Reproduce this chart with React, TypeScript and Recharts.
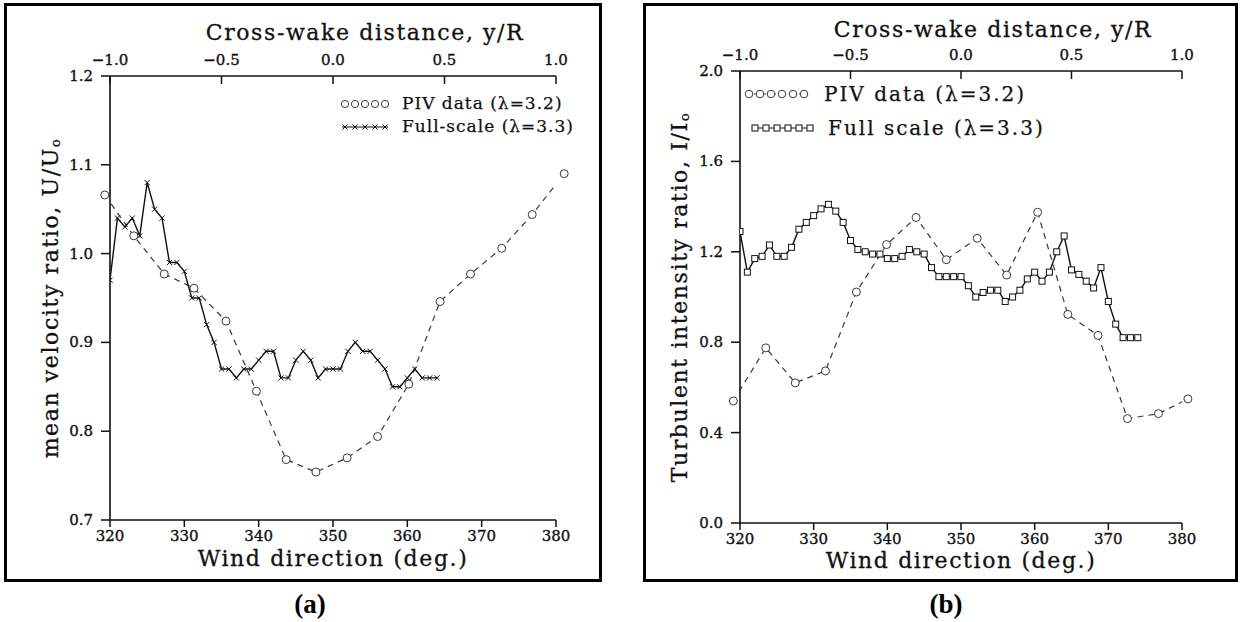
import React from 'react'
import { LineChart, Line, XAxis, YAxis, ReferenceDot, Legend } from 'recharts'

// (a) mean velocity ratio, PIV (lambda=3.2) vs full-scale (lambda=3.3)
const pivDirA = [319.3, 323.2, 327.3, 331.3, 335.6, 339.7, 343.7, 347.7, 351.9, 356.0, 360.2, 364.4, 368.5, 372.7, 376.8, 381.1]
const pivVelA = [1.066, 1.02, 0.977, 0.961, 0.924, 0.845, 0.768, 0.754, 0.77, 0.794, 0.853, 0.946, 0.977, 1.006, 1.044, 1.09]
const fullDirA = [
  320, 321, 322, 323, 324, 325, 326, 327, 328, 329,
  330, 331, 332, 333, 334, 335, 336, 337, 338, 339,
  340, 341, 342, 343, 344, 345, 346, 347, 348, 349,
  350, 351, 352, 353, 354, 355, 356, 357, 358, 359,
  360, 361, 362, 363, 364,
]
const fullVelA = [
  0.97, 1.04, 1.03, 1.04, 1.02, 1.08, 1.05, 1.04, 0.99, 0.99,
  0.98, 0.95, 0.95, 0.92, 0.9, 0.87, 0.87, 0.86, 0.87, 0.87,
  0.88, 0.89, 0.89, 0.86, 0.86, 0.88, 0.89, 0.88, 0.86, 0.87,
  0.87, 0.87, 0.89, 0.9, 0.89, 0.89, 0.88, 0.87, 0.85, 0.85,
  0.86, 0.87, 0.86, 0.86, 0.86,
]

// (b) turbulent intensity ratio
const pivDirB = [319.1, 323.5, 327.5, 331.6, 335.8, 339.9, 343.9, 348.0, 352.2, 356.2, 360.4, 364.5, 368.6, 372.6, 376.8, 380.8]
const pivTurbB = [0.54, 0.775, 0.62, 0.673, 1.022, 1.232, 1.352, 1.165, 1.26, 1.097, 1.375, 0.923, 0.83, 0.462, 0.484, 0.549]
const fullDirB = [
  320, 321, 322, 323, 324, 325, 326, 327, 328, 329,
  330, 331, 332, 333, 334, 335, 336, 337, 338, 339,
  340, 341, 342, 343, 344, 345, 346, 347, 348, 349,
  350, 351, 352, 353, 354, 355, 356, 357, 358, 359,
  360, 361, 362, 363, 364, 365, 366, 367, 368, 369,
  370, 371, 372, 373, 374,
]
const fullTurbB = [
  1.29, 1.11, 1.17, 1.18, 1.23, 1.18, 1.18, 1.22, 1.3, 1.33,
  1.36, 1.39, 1.41, 1.38, 1.33, 1.25, 1.21, 1.2, 1.19, 1.19,
  1.17, 1.17, 1.18, 1.21, 1.2, 1.19, 1.13, 1.09, 1.09, 1.09,
  1.09, 1.05, 1.0, 1.02, 1.03, 1.03, 0.98, 1.0, 1.03, 1.08,
  1.11, 1.07, 1.11, 1.2, 1.27, 1.12, 1.1, 1.07, 1.04, 1.13,
  0.98, 0.88, 0.82, 0.82, 0.82,
]

// axis ticks
const windTicks = [320, 330, 340, 350, 360, 370, 380]
// cross-wake y/R runs -1..1 over the same 320..380 span
const crossTickPos = [320, 335, 350, 365, 380]
const crossTickLabels = ['\u22121.0', '\u22120.5', '0.0', '0.5', '1.0']
const velTicks = [0.7, 0.8, 0.9, 1.0, 1.1, 1.2]
const turbTicks = [0, 0.4, 0.8, 1.2, 1.6, 2.0]

const toPoints = (xs: number[], ys: number[]) => xs.map((x, i) => ({ x, y: ys[i] }))
const pivA = toPoints(pivDirA, pivVelA)
const fullA = toPoints(fullDirA, fullVelA)
const pivB = toPoints(pivDirB, pivTurbB)
const fullB = toPoints(fullDirB, fullTurbB)

const FONT = '"DejaVu Serif", serif'
const INK = '#111'
const DASH = '#3a3a3a'

// scanned-print look: a hair of stroke thickens the glyphs a little
const tickText = { fontSize: 15, fontFamily: FONT, fill: INK, stroke: INK, strokeWidth: 0.35 }

// tick labels only; the tick marks come from the axes themselves
const LeftTick = (p: any) => (
  <text x={p.x} y={p.y} textAnchor="end" dominantBaseline="central" {...tickText}>
    {Number(p.payload.value).toFixed(1)}
  </text>
)
const BottomTick = (p: any) => (
  <text x={p.x} y={p.y} textAnchor="middle" dominantBaseline="central" {...tickText}>
    {p.payload.value}
  </text>
)
const TopTick = (p: any) => (
  <text x={p.x} y={p.y} textAnchor="middle" dominantBaseline="central" {...tickText}>
    {crossTickLabels[p.index]}
  </text>
)

const CrossDot = (p: any) => {
  const s = 2.6
  return (
    <path
      key={p.index}
      d={`M${p.cx - s},${p.cy - s}L${p.cx + s},${p.cy + s}M${p.cx - s},${p.cy + s}L${p.cx + s},${p.cy - s}`}
      stroke={INK}
      strokeWidth={1}
      fill="none"
    />
  )
}
const SquareDot = (p: any) => (
  <rect key={p.index} x={p.cx - 3} y={p.cy - 3} width={6} height={6} fill="#fff" stroke={INK} strokeWidth={1} />
)

const legendText: React.CSSProperties = { fontFamily: FONT, color: INK, WebkitTextStroke: '0.25px #111' }

const LegendA = () => (
  <div style={{ ...legendText, fontSize: 17, letterSpacing: 1, lineHeight: '23px' }}>
    <div style={{ display: 'flex', alignItems: 'center', whiteSpace: 'nowrap' }}>
      <svg width={52} height={12}>
        {[5, 15, 25, 35, 45].map(c => <circle key={c} cx={c} cy={6} r={3.6} fill="#fff" stroke={DASH} strokeWidth={1} />)}
      </svg>
      <span style={{ marginLeft: 10 }}>PIV data (λ=3.2)</span>
    </div>
    <div style={{ display: 'flex', alignItems: 'center', whiteSpace: 'nowrap' }}>
      <svg width={52} height={12}>
        <line x1={2} x2={48} y1={6} y2={6} stroke={INK} strokeWidth={1} />
        {[5, 15, 25, 35, 45].map(c => (
          <path key={c} d={`M${c - 2.5},3.5L${c + 2.5},8.5M${c - 2.5},8.5L${c + 2.5},3.5`} stroke={INK} strokeWidth={1} />
        ))}
      </svg>
      <span style={{ marginLeft: 10 }}>Full-scale (λ=3.3)</span>
    </div>
  </div>
)

const LegendB = () => (
  <div style={{ ...legendText, fontSize: 20, letterSpacing: 2, lineHeight: '34px' }}>
    <div style={{ display: 'flex', alignItems: 'center', whiteSpace: 'nowrap' }}>
      <svg width={66} height={12}>
        <line x1={5} x2={60} y1={6} y2={6} stroke={DASH} strokeWidth={1} strokeDasharray="2 3" />
        {[5, 16, 27, 38, 49, 60].map(c => <circle key={c} cx={c} cy={6} r={3.8} fill="#fff" stroke={DASH} strokeWidth={1} />)}
      </svg>
      <span style={{ marginLeft: 14 }}>PIV data (λ=3.2)</span>
    </div>
    <div style={{ display: 'flex', alignItems: 'center', whiteSpace: 'nowrap' }}>
      <svg width={66} height={12} style={{ marginLeft: 6 }}>
        <line x1={5} x2={60} y1={6} y2={6} stroke={INK} strokeWidth={1} />
        {[5, 16, 27, 38, 49, 60].map(c => <rect key={c} x={c - 3} y={3} width={6} height={6} fill="#fff" stroke={INK} strokeWidth={1} />)}
      </svg>
      <span style={{ marginLeft: 12 }}>Full scale (λ=3.3)</span>
    </div>
  </div>
)

const titleStyle: React.CSSProperties = {
  position: 'absolute',
  fontFamily: FONT,
  fontSize: 22,
  letterSpacing: 1.6,
  color: INK,
  WebkitTextStroke: '0.3px #111',
  whiteSpace: 'nowrap',
  lineHeight: 1,
}

function Title({ x, y, rotate, children }: { x: number; y: number; rotate?: boolean; children: React.ReactNode }) {
  return (
    <div style={{ ...titleStyle, left: x, top: y, transform: `translate(-50%, -50%)${rotate ? ' rotate(-90deg)' : ''}` }}>
      {children}
    </div>
  )
}

const sub: React.CSSProperties = { fontSize: '0.6em', verticalAlign: '-0.2em' }
const caption: React.CSSProperties = {
  position: 'absolute', top: 604, transform: 'translate(-50%, -50%)',
  fontFamily: '"Liberation Serif", serif', fontWeight: 'bold', fontSize: 27, lineHeight: 1,
}

const axisLine = { stroke: INK, strokeWidth: 1.6 }
const tickLine = { stroke: INK, strokeWidth: 1.5 }

export default function App() {
  return (
    <div style={{ position: 'absolute', left: 0, top: 0, width: 1246, height: 622, background: '#fff', overflow: 'hidden' }}>
      <div style={{ position: 'absolute', left: 4, top: 3, width: 598, height: 579, border: '3px solid #000', boxSizing: 'border-box' }} />
      <div style={{ position: 'absolute', left: 643, top: 3, width: 595, height: 579, border: '3px solid #000', boxSizing: 'border-box' }} />

      {/* (a) */}
      <div style={{ position: 'absolute', left: 0, top: 0 }}>
        <LineChart width={600} height={585} margin={{ top: 46, right: 44, bottom: 35, left: 50 }}>
          <XAxis xAxisId="wind" type="number" dataKey="x" domain={[320, 380]} ticks={windTicks} interval={0}
            allowDataOverflow height={30} tickSize={7} tickMargin={9} tickLine={tickLine} tick={BottomTick} axisLine={axisLine} />
          <XAxis xAxisId="cross" orientation="top" type="number" dataKey="x" domain={[320, 380]} ticks={crossTickPos} interval={0}
            allowDataOverflow height={30} tickSize={-8} tickMargin={24} tickLine={tickLine} tick={TopTick} axisLine={axisLine} />
          <YAxis yAxisId="vel" type="number" domain={[0.7, 1.2]} ticks={velTicks} interval={0}
            width={60} tickSize={9} tickMargin={8} tickLine={tickLine} tick={LeftTick} axisLine={axisLine} />
          <Line xAxisId="wind" yAxisId="vel" data={pivA} dataKey="y" type="linear" stroke={DASH} strokeWidth={1.2}
            strokeDasharray="6 5" dot={false} activeDot={false} isAnimationActive={false} />
          <Line xAxisId="cross" yAxisId="vel" data={fullA} dataKey="y" type="linear" stroke={INK} strokeWidth={1.4}
            dot={CrossDot} activeDot={false} isAnimationActive={false} />
          {pivA.map((d, i) => (
            <ReferenceDot key={i} xAxisId="wind" yAxisId="vel" x={d.x} y={d.y} r={4} fill="#fff" stroke={DASH} strokeWidth={1} ifOverflow="visible" />
          ))}
          <Legend layout="vertical" align="center" verticalAlign="middle" content={() => <LegendA />}
            wrapperStyle={{ left: 340, top: 92, width: 'auto' }} />
        </LineChart>
      </div>

      {/* (b) */}
      <div style={{ position: 'absolute', left: 620, top: 0 }}>
        <LineChart width={626} height={585} margin={{ top: 41, right: 64, bottom: 32, left: 60 }}>
          <XAxis xAxisId="wind" type="number" dataKey="x" domain={[320, 380]} ticks={windTicks} interval={0}
            allowDataOverflow height={30} tickSize={7} tickMargin={9} tickLine={tickLine} tick={BottomTick} axisLine={axisLine} />
          <XAxis xAxisId="cross" orientation="top" type="number" dataKey="x" domain={[320, 380]} ticks={crossTickPos} interval={0}
            allowDataOverflow height={30} tickSize={-8} tickMargin={24} tickLine={tickLine} tick={TopTick} axisLine={axisLine} />
          <YAxis yAxisId="turb" type="number" domain={[0, 2]} ticks={turbTicks} interval={0}
            width={60} tickSize={9} tickMargin={8} tickLine={tickLine} tick={LeftTick} axisLine={axisLine} />
          <Line xAxisId="wind" yAxisId="turb" data={pivB} dataKey="y" type="linear" stroke={DASH} strokeWidth={1.2}
            strokeDasharray="6 5" dot={false} activeDot={false} isAnimationActive={false} />
          <Line xAxisId="cross" yAxisId="turb" data={fullB} dataKey="y" type="linear" stroke={INK} strokeWidth={1.4}
            dot={SquareDot} activeDot={false} isAnimationActive={false} />
          {pivB.map((d, i) => (
            <ReferenceDot key={i} xAxisId="wind" yAxisId="turb" x={d.x} y={d.y} r={4} fill="#fff" stroke={DASH} strokeWidth={1} ifOverflow="visible" />
          ))}
          <Legend layout="vertical" align="center" verticalAlign="middle" content={() => <LegendB />}
            wrapperStyle={{ left: 124, top: 77, width: 'auto' }} />
        </LineChart>
      </div>

      <Title x={365} y={33}>Cross-wake distance, y/R</Title>
      <Title x={333} y={559}>Wind direction (deg.)</Title>
      <Title x={51} y={298} rotate>mean velocity ratio, U/U<span style={sub}>o</span></Title>

      <Title x={993} y={30}>Cross-wake distance, y/R</Title>
      <Title x={961} y={561}>Wind direction (deg.)</Title>
      <Title x={680} y={297} rotate>Turbulent intensity ratio, I/I<span style={sub}>o</span></Title>

      <div style={{ ...caption, left: 310 }}>(a)</div>
      <div style={{ ...caption, left: 946 }}>(b)</div>
    </div>
  )
}
